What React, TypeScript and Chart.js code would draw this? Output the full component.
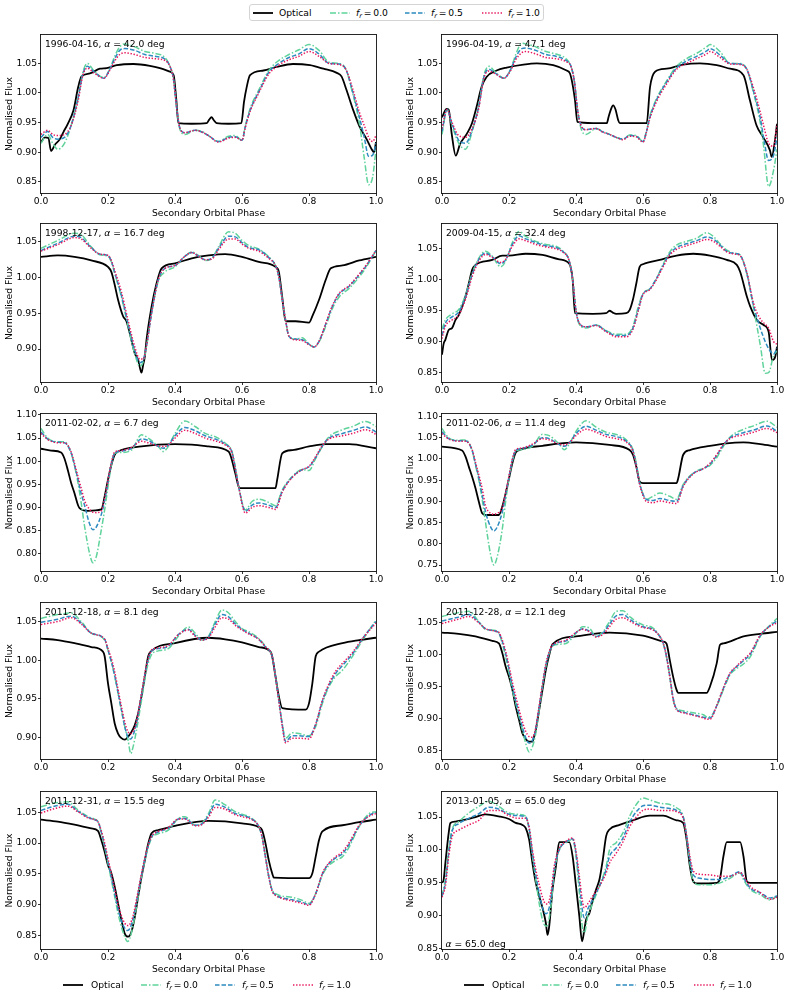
import React, { useEffect, useRef } from "react";
import { Chart, registerables } from "chart.js";

Chart.register(...registerables);

const FONT_FAMILY = "'DejaVu Sans', 'Liberation Sans', sans-serif";
const FS = 9.2;

// ---------- panel metadata ----------
const DATES = ["1996-04-16", "1996-04-19", "1998-12-17", "2009-04-15", "2011-02-02", "2011-02-06", "2011-12-18", "2011-12-28", "2011-12-31", "2013-01-05"];
const ALPHAS = ["42.0", "47.1", "16.7", "32.4", "6.7", "11.4", "8.1", "12.1", "15.5", "65.0"];
const Y_MIN = [0.831, 0.831, 0.854, 0.835, 0.763, 0.736, 0.872, 0.837, 0.828, 0.8495];
const Y_MAX = [1.098, 1.098, 1.075, 1.090, 1.102, 1.106, 1.074, 1.080, 1.083, 1.088];
const Y_TICKS_A = [0.85, 0.9, 0.95, 1.0, 1.05];
const Y_TICKS_B = [0.9, 0.95, 1.0, 1.05];
const Y_TICKS_C = [0.8, 0.85, 0.9, 0.95, 1.0, 1.05, 1.1];
const Y_TICKS_D = [0.75, 0.8, 0.85, 0.9, 0.95, 1.0, 1.05, 1.1];
const X_TICKS = [0, 0.2, 0.4, 0.6, 0.8, 1.0];

// ---------- panel 1: 1996-04-16 ----------
const P1_OPT_PH = [0, 0.012, 0.022, 0.03, 0.042, 0.055, 0.067, 0.08, 0.097, 0.111, 0.121, 0.146, 0.176, 0.196, 0.226, 0.276, 0.325, 0.355, 0.385, 0.396, 0.404, 0.41, 0.45, 0.495, 0.502, 0.509, 0.516, 0.524, 0.56, 0.598, 0.606, 0.614, 0.624, 0.664, 0.703, 0.752, 0.803, 0.843, 0.883, 0.897, 0.912, 0.932, 0.952, 0.972, 0.987, 0.994, 1.0];
const P1_OPT = [0.917, 0.925, 0.924, 0.902, 0.913, 0.921, 0.934, 0.948, 0.971, 1.010, 1.028, 1.033, 1.041, 1.042, 1.047, 1.049, 1.046, 1.042, 1.036, 1.030, 0.988, 0.949, 0.948, 0.949, 0.955, 0.959, 0.954, 0.949, 0.948, 0.949, 0.985, 1.010, 1.030, 1.038, 1.044, 1.049, 1.047, 1.041, 1.034, 1.028, 1.005, 0.971, 0.942, 0.922, 0.905, 0.900, 0.917];
const P1_MOD_PH = [0, 0.02, 0.035, 0.05, 0.07, 0.09, 0.11, 0.125, 0.138, 0.16, 0.188, 0.205, 0.22, 0.235, 0.25, 0.28, 0.31, 0.34, 0.37, 0.385, 0.395, 0.405, 0.415, 0.43, 0.46, 0.48, 0.5, 0.53, 0.56, 0.58, 0.6, 0.61, 0.625, 0.65, 0.68, 0.71, 0.74, 0.77, 0.8, 0.83, 0.86, 0.89, 0.91, 0.93, 0.95, 0.965, 0.978, 0.99, 1.0];
const P1_F00 = [0.915, 0.930, 0.915, 0.905, 0.915, 0.945, 0.990, 1.035, 1.050, 1.036, 1.026, 1.040, 1.062, 1.078, 1.083, 1.078, 1.070, 1.067, 1.060, 1.045, 1.025, 0.975, 0.938, 0.930, 0.937, 0.935, 0.928, 0.918, 0.927, 0.928, 0.920, 0.945, 0.975, 1.005, 1.038, 1.055, 1.065, 1.073, 1.082, 1.072, 1.052, 1.050, 1.040, 1.000, 0.950, 0.890, 0.845, 0.858, 0.905];
const P1_F05 = [0.925, 0.935, 0.925, 0.922, 0.925, 0.945, 0.990, 1.032, 1.045, 1.035, 1.025, 1.040, 1.058, 1.072, 1.075, 1.072, 1.065, 1.062, 1.057, 1.045, 1.025, 0.975, 0.940, 0.933, 0.937, 0.934, 0.928, 0.918, 0.925, 0.926, 0.920, 0.943, 0.972, 1.002, 1.035, 1.050, 1.060, 1.066, 1.075, 1.066, 1.050, 1.049, 1.040, 1.003, 0.960, 0.925, 0.893, 0.895, 0.915];
const P1_F10 = [0.930, 0.937, 0.930, 0.928, 0.930, 0.945, 0.985, 1.030, 1.042, 1.033, 1.025, 1.038, 1.054, 1.065, 1.068, 1.065, 1.060, 1.058, 1.055, 1.045, 1.025, 0.975, 0.940, 0.933, 0.937, 0.934, 0.928, 0.917, 0.924, 0.925, 0.920, 0.942, 0.970, 1.000, 1.032, 1.047, 1.056, 1.062, 1.070, 1.062, 1.050, 1.048, 1.040, 1.008, 0.968, 0.945, 0.925, 0.918, 0.928];

// ---------- panel 2: 1996-04-19 ----------
const P2_OPT_PH = [0, 0.014, 0.02, 0.029, 0.041, 0.054, 0.074, 0.089, 0.103, 0.118, 0.133, 0.163, 0.193, 0.243, 0.283, 0.332, 0.372, 0.382, 0.397, 0.404, 0.45, 0.492, 0.497, 0.504, 0.511, 0.518, 0.526, 0.531, 0.57, 0.611, 0.621, 0.636, 0.671, 0.72, 0.77, 0.82, 0.86, 0.9, 0.919, 0.939, 0.959, 0.979, 0.984, 0.994, 1.0];
const P2_OPT = [0.959, 0.973, 0.972, 0.931, 0.894, 0.914, 0.931, 0.948, 0.976, 1.010, 1.027, 1.038, 1.043, 1.048, 1.050, 1.047, 1.038, 1.033, 0.988, 0.951, 0.949, 0.949, 0.959, 0.972, 0.979, 0.972, 0.954, 0.949, 0.949, 0.949, 1.010, 1.036, 1.041, 1.048, 1.050, 1.047, 1.041, 1.030, 0.988, 0.945, 0.925, 0.903, 0.892, 0.920, 0.948];
const P2_MOD_PH = [0, 0.015, 0.03, 0.05, 0.07, 0.09, 0.11, 0.125, 0.14, 0.16, 0.185, 0.205, 0.22, 0.238, 0.25, 0.28, 0.31, 0.34, 0.37, 0.385, 0.395, 0.405, 0.415, 0.43, 0.46, 0.48, 0.5, 0.52, 0.54, 0.56, 0.58, 0.6, 0.61, 0.62, 0.64, 0.67, 0.7, 0.73, 0.76, 0.79, 0.8, 0.83, 0.86, 0.89, 0.91, 0.93, 0.95, 0.96, 0.975, 0.99, 1.0];
const P2_F00 = [0.930, 0.972, 0.945, 0.915, 0.905, 0.935, 0.980, 1.030, 1.045, 1.035, 1.025, 1.040, 1.065, 1.084, 1.083, 1.078, 1.070, 1.066, 1.058, 1.045, 1.020, 0.970, 0.940, 0.930, 0.940, 0.935, 0.930, 0.925, 0.922, 0.929, 0.928, 0.918, 0.935, 0.960, 0.990, 1.020, 1.045, 1.058, 1.067, 1.078, 1.082, 1.070, 1.050, 1.050, 1.040, 1.000, 0.950, 0.910, 0.842, 0.870, 0.905];
const P2_F05 = [0.935, 0.972, 0.948, 0.920, 0.915, 0.937, 0.978, 1.027, 1.040, 1.033, 1.025, 1.040, 1.060, 1.075, 1.076, 1.072, 1.065, 1.062, 1.055, 1.045, 1.020, 0.970, 0.945, 0.938, 0.940, 0.934, 0.930, 0.925, 0.922, 0.928, 0.927, 0.918, 0.934, 0.958, 0.988, 1.018, 1.042, 1.054, 1.062, 1.071, 1.075, 1.064, 1.050, 1.049, 1.040, 1.003, 0.958, 0.925, 0.886, 0.895, 0.925];
const P2_F10 = [0.940, 0.972, 0.950, 0.928, 0.925, 0.940, 0.975, 1.025, 1.037, 1.032, 1.025, 1.038, 1.056, 1.068, 1.070, 1.066, 1.060, 1.058, 1.053, 1.045, 1.020, 0.970, 0.945, 0.938, 0.940, 0.934, 0.930, 0.925, 0.921, 0.927, 0.926, 0.917, 0.933, 0.956, 0.985, 1.015, 1.040, 1.050, 1.058, 1.066, 1.070, 1.060, 1.049, 1.048, 1.040, 1.008, 0.968, 0.945, 0.915, 0.910, 0.947];

// ---------- panel 3: 1998-12-17 ----------
const P3_OPT_PH = [0, 0.05, 0.1, 0.15, 0.2, 0.21, 0.22, 0.23, 0.245, 0.255, 0.265, 0.28, 0.29, 0.3, 0.305, 0.31, 0.315, 0.33, 0.345, 0.36, 0.4, 0.45, 0.5, 0.55, 0.6, 0.65, 0.7, 0.71, 0.72, 0.73, 0.76, 0.8, 0.81, 0.83, 0.85, 0.865, 0.9, 0.95, 1.0];
const P3_OPT = [1.029, 1.031, 1.029, 1.024, 1.015, 1.008, 0.990, 0.969, 0.946, 0.939, 0.922, 0.894, 0.885, 0.867, 0.878, 0.890, 0.913, 0.959, 0.992, 1.013, 1.020, 1.027, 1.031, 1.033, 1.029, 1.022, 1.015, 1.008, 0.973, 0.939, 0.939, 0.937, 0.946, 0.969, 0.997, 1.013, 1.017, 1.024, 1.029];
const P3_MOD_PH = [0, 0.05, 0.1, 0.12, 0.15, 0.175, 0.2, 0.21, 0.22, 0.24, 0.26, 0.28, 0.295, 0.305, 0.315, 0.33, 0.35, 0.37, 0.4, 0.43, 0.45, 0.47, 0.49, 0.51, 0.53, 0.56, 0.58, 0.6, 0.62, 0.65, 0.68, 0.7, 0.71, 0.72, 0.73, 0.74, 0.76, 0.78, 0.8, 0.815, 0.83, 0.85, 0.87, 0.89, 0.92, 0.95, 0.97, 1.0];
const P3_F00 = [1.041, 1.052, 1.062, 1.060, 1.043, 1.032, 1.030, 1.022, 1.006, 0.973, 0.932, 0.893, 0.876, 0.882, 0.904, 0.950, 0.995, 1.008, 1.015, 1.030, 1.036, 1.031, 1.024, 1.027, 1.043, 1.064, 1.062, 1.052, 1.045, 1.040, 1.029, 1.017, 1.001, 0.969, 0.941, 0.918, 0.914, 0.916, 0.907, 0.903, 0.910, 0.932, 0.957, 0.973, 0.985, 1.001, 1.014, 1.038];
const P3_F05 = [1.038, 1.048, 1.058, 1.056, 1.042, 1.033, 1.031, 1.023, 1.007, 0.975, 0.935, 0.898, 0.881, 0.885, 0.905, 0.950, 0.997, 1.013, 1.017, 1.030, 1.035, 1.030, 1.025, 1.027, 1.041, 1.058, 1.057, 1.049, 1.042, 1.039, 1.028, 1.017, 1.001, 0.970, 0.941, 0.918, 0.914, 0.913, 0.907, 0.903, 0.911, 0.935, 0.960, 0.977, 0.988, 1.004, 1.016, 1.038];
const P3_F10 = [1.037, 1.046, 1.056, 1.054, 1.041, 1.033, 1.031, 1.024, 1.010, 0.980, 0.940, 0.903, 0.886, 0.886, 0.905, 0.950, 0.997, 1.013, 1.017, 1.030, 1.035, 1.030, 1.025, 1.026, 1.039, 1.054, 1.054, 1.047, 1.041, 1.037, 1.027, 1.017, 1.001, 0.970, 0.941, 0.918, 0.913, 0.912, 0.906, 0.903, 0.911, 0.936, 0.961, 0.978, 0.989, 1.005, 1.017, 1.038];

// ---------- panel 4: 2009-04-15 ----------
const P4_OPT_PH = [0, 0.005, 0.01, 0.02, 0.03, 0.04, 0.05, 0.06, 0.07, 0.08, 0.09, 0.1, 0.15, 0.18, 0.2, 0.25, 0.3, 0.35, 0.38, 0.39, 0.397, 0.45, 0.49, 0.5, 0.51, 0.52, 0.55, 0.56, 0.57, 0.58, 0.59, 0.6, 0.65, 0.7, 0.75, 0.8, 0.85, 0.88, 0.89, 0.91, 0.92, 0.94, 0.96, 0.975, 0.985, 0.995, 1.0];
const P4_OPT = [0.879, 0.897, 0.903, 0.919, 0.922, 0.935, 0.943, 0.957, 0.973, 0.994, 1.016, 1.024, 1.032, 1.039, 1.039, 1.042, 1.040, 1.033, 1.026, 1.000, 0.946, 0.945, 0.946, 0.950, 0.947, 0.945, 0.946, 0.951, 0.968, 0.994, 1.021, 1.025, 1.032, 1.039, 1.042, 1.039, 1.032, 1.024, 1.013, 0.973, 0.957, 0.935, 0.927, 0.916, 0.870, 0.876, 0.892];
const P4_MOD_PH = [0, 0.01, 0.03, 0.05, 0.07, 0.09, 0.11, 0.13, 0.15, 0.175, 0.19, 0.21, 0.23, 0.25, 0.28, 0.31, 0.34, 0.36, 0.38, 0.39, 0.4, 0.41, 0.43, 0.46, 0.49, 0.52, 0.55, 0.57, 0.585, 0.6, 0.62, 0.64, 0.66, 0.68, 0.7, 0.73, 0.76, 0.79, 0.81, 0.83, 0.85, 0.88, 0.89, 0.91, 0.93, 0.95, 0.965, 0.975, 0.99, 1.0];
const P4_F00 = [0.920, 0.935, 0.945, 0.952, 0.975, 1.010, 1.035, 1.046, 1.038, 1.021, 1.030, 1.060, 1.078, 1.070, 1.062, 1.057, 1.054, 1.047, 1.030, 1.000, 0.950, 0.928, 0.922, 0.927, 0.918, 0.912, 0.912, 0.925, 0.955, 0.978, 0.985, 1.002, 1.025, 1.045, 1.056, 1.062, 1.067, 1.076, 1.070, 1.058, 1.048, 1.042, 1.040, 1.010, 0.955, 0.895, 0.849, 0.850, 0.878, 0.885];
const P4_F05 = [0.910, 0.930, 0.940, 0.948, 0.972, 1.008, 1.033, 1.043, 1.037, 1.026, 1.032, 1.057, 1.071, 1.066, 1.060, 1.055, 1.052, 1.046, 1.030, 1.000, 0.950, 0.930, 0.924, 0.927, 0.917, 0.910, 0.910, 0.922, 0.950, 0.977, 0.985, 1.002, 1.023, 1.042, 1.052, 1.058, 1.063, 1.069, 1.066, 1.056, 1.046, 1.042, 1.040, 1.010, 0.958, 0.922, 0.900, 0.889, 0.880, 0.890];
const P4_F10 = [0.905, 0.925, 0.935, 0.943, 0.968, 1.005, 1.030, 1.041, 1.036, 1.028, 1.033, 1.054, 1.066, 1.063, 1.057, 1.053, 1.050, 1.045, 1.030, 1.000, 0.950, 0.930, 0.924, 0.926, 0.916, 0.908, 0.908, 0.920, 0.948, 0.976, 0.984, 1.000, 1.021, 1.040, 1.049, 1.055, 1.060, 1.065, 1.062, 1.054, 1.045, 1.041, 1.039, 1.012, 0.962, 0.937, 0.928, 0.922, 0.900, 0.896];

// ---------- panel 5: 2011-02-02 ----------
const P5_OPT_PH = [0, 0.03, 0.06, 0.07, 0.08, 0.09, 0.1, 0.11, 0.115, 0.14, 0.18, 0.19, 0.2, 0.21, 0.22, 0.23, 0.3, 0.4, 0.45, 0.5, 0.56, 0.565, 0.58, 0.59, 0.595, 0.7, 0.705, 0.72, 0.75, 0.8, 0.85, 0.92, 1.0];
const P5_OPT = [1.027, 1.023, 1.019, 1.006, 0.981, 0.953, 0.931, 0.906, 0.899, 0.893, 0.896, 0.924, 0.960, 0.992, 1.014, 1.021, 1.032, 1.037, 1.036, 1.032, 1.021, 1.014, 0.974, 0.945, 0.942, 0.942, 0.960, 1.017, 1.024, 1.032, 1.037, 1.037, 1.028];
const P5_MOD_PH = [0, 0.02, 0.05, 0.07, 0.09, 0.1, 0.11, 0.12, 0.13, 0.145, 0.155, 0.165, 0.18, 0.19, 0.2, 0.21, 0.22, 0.24, 0.27, 0.3, 0.32, 0.35, 0.365, 0.38, 0.4, 0.43, 0.46, 0.49, 0.52, 0.55, 0.57, 0.58, 0.59, 0.61, 0.63, 0.65, 0.68, 0.7, 0.72, 0.75, 0.78, 0.8, 0.82, 0.84, 0.86, 0.9, 0.93, 0.97, 1.0];
const P5_F00 = [1.071, 1.050, 1.042, 1.042, 1.017, 0.990, 0.955, 0.910, 0.860, 0.801, 0.781, 0.794, 0.852, 0.895, 0.945, 0.992, 1.017, 1.019, 1.024, 1.057, 1.050, 1.032, 1.021, 1.032, 1.060, 1.087, 1.075, 1.060, 1.053, 1.039, 1.021, 0.988, 0.945, 0.895, 0.913, 0.918, 0.911, 0.904, 0.938, 0.967, 0.982, 0.980, 1.006, 1.032, 1.053, 1.068, 1.075, 1.086, 1.075];
const P5_F05 = [1.063, 1.048, 1.041, 1.040, 1.018, 0.992, 0.962, 0.930, 0.905, 0.865, 0.852, 0.858, 0.885, 0.915, 0.955, 0.995, 1.017, 1.022, 1.028, 1.048, 1.045, 1.032, 1.028, 1.035, 1.055, 1.073, 1.066, 1.055, 1.048, 1.037, 1.020, 0.985, 0.945, 0.892, 0.905, 0.910, 0.905, 0.900, 0.935, 0.966, 0.982, 0.988, 1.008, 1.033, 1.050, 1.060, 1.066, 1.074, 1.063];
const P5_F10 = [1.060, 1.047, 1.040, 1.040, 1.020, 0.995, 0.968, 0.942, 0.915, 0.896, 0.890, 0.889, 0.893, 0.920, 0.958, 0.997, 1.020, 1.023, 1.030, 1.043, 1.040, 1.033, 1.032, 1.035, 1.050, 1.067, 1.060, 1.050, 1.044, 1.035, 1.018, 0.983, 0.945, 0.888, 0.900, 0.904, 0.900, 0.896, 0.933, 0.965, 0.982, 0.989, 1.010, 1.034, 1.048, 1.055, 1.060, 1.068, 1.058];

// ---------- panel 6: 2011-02-06 ----------
const P6_OPT_PH = [0, 0.06, 0.07, 0.08, 0.09, 0.1, 0.11, 0.12, 0.13, 0.17, 0.18, 0.19, 0.2, 0.21, 0.22, 0.23, 0.3, 0.4, 0.5, 0.56, 0.57, 0.58, 0.59, 0.6, 0.7, 0.705, 0.72, 0.74, 0.8, 0.85, 0.9, 0.95, 1.0];
const P6_OPT = [1.029, 1.020, 1.006, 0.982, 0.958, 0.931, 0.899, 0.872, 0.868, 0.868, 0.888, 0.919, 0.954, 0.990, 1.015, 1.021, 1.031, 1.039, 1.033, 1.021, 1.010, 0.982, 0.947, 0.943, 0.943, 0.954, 1.010, 1.021, 1.031, 1.037, 1.039, 1.035, 1.029];
const P6_MOD_PH = [0, 0.02, 0.05, 0.07, 0.09, 0.1, 0.11, 0.12, 0.13, 0.145, 0.155, 0.165, 0.18, 0.19, 0.2, 0.21, 0.22, 0.24, 0.27, 0.3, 0.32, 0.35, 0.365, 0.38, 0.4, 0.43, 0.46, 0.49, 0.52, 0.55, 0.57, 0.58, 0.59, 0.61, 0.63, 0.65, 0.68, 0.7, 0.72, 0.75, 0.78, 0.8, 0.82, 0.84, 0.86, 0.9, 0.93, 0.97, 1.0];
const P6_F00 = [1.072, 1.050, 1.044, 1.045, 1.020, 0.985, 0.950, 0.905, 0.850, 0.775, 0.750, 0.770, 0.835, 0.900, 0.955, 0.995, 1.018, 1.022, 1.030, 1.058, 1.055, 1.035, 1.022, 1.035, 1.065, 1.090, 1.075, 1.063, 1.058, 1.045, 1.022, 0.990, 0.945, 0.905, 0.912, 0.920, 0.912, 0.905, 0.940, 0.967, 0.978, 0.985, 1.003, 1.030, 1.052, 1.070, 1.078, 1.089, 1.075];
const P6_F05 = [1.064, 1.048, 1.043, 1.043, 1.020, 0.988, 0.955, 0.915, 0.875, 0.840, 0.830, 0.840, 0.875, 0.915, 0.958, 0.998, 1.020, 1.025, 1.033, 1.050, 1.048, 1.034, 1.030, 1.038, 1.060, 1.077, 1.068, 1.058, 1.053, 1.042, 1.020, 0.985, 0.942, 0.905, 0.902, 0.907, 0.902, 0.900, 0.937, 0.966, 0.977, 0.988, 1.008, 1.033, 1.050, 1.062, 1.068, 1.078, 1.065];
const P6_F10 = [1.060, 1.047, 1.042, 1.042, 1.022, 0.992, 0.962, 0.930, 0.890, 0.872, 0.870, 0.872, 0.885, 0.920, 0.960, 1.000, 1.022, 1.026, 1.035, 1.048, 1.045, 1.035, 1.033, 1.038, 1.055, 1.070, 1.063, 1.053, 1.048, 1.040, 1.018, 0.983, 0.940, 0.900, 0.897, 0.901, 0.897, 0.895, 0.935, 0.965, 0.977, 0.990, 1.010, 1.034, 1.048, 1.057, 1.063, 1.072, 1.062];

// ---------- panel 7: 2011-12-18 ----------
const P7_OPT_PH = [0, 0.05, 0.1, 0.15, 0.185, 0.19, 0.2, 0.21, 0.22, 0.23, 0.24, 0.25, 0.26, 0.27, 0.28, 0.29, 0.3, 0.31, 0.32, 0.33, 0.4, 0.5, 0.55, 0.6, 0.65, 0.685, 0.69, 0.7, 0.71, 0.72, 0.79, 0.8, 0.81, 0.82, 0.83, 0.9, 0.95, 1.0];
const P7_OPT = [1.028, 1.026, 1.022, 1.017, 1.011, 1.005, 0.970, 0.944, 0.918, 0.905, 0.899, 0.897, 0.901, 0.907, 0.916, 0.931, 0.953, 0.979, 1.005, 1.012, 1.022, 1.029, 1.027, 1.023, 1.017, 1.011, 1.005, 0.979, 0.953, 0.938, 0.936, 0.944, 0.970, 1.005, 1.011, 1.022, 1.026, 1.029];
const P7_MOD_PH = [0, 0.05, 0.09, 0.12, 0.15, 0.19, 0.2, 0.21, 0.22, 0.23, 0.24, 0.25, 0.26, 0.268, 0.275, 0.285, 0.3, 0.315, 0.33, 0.35, 0.38, 0.41, 0.44, 0.46, 0.48, 0.5, 0.52, 0.54, 0.56, 0.58, 0.6, 0.62, 0.65, 0.67, 0.69, 0.7, 0.71, 0.72, 0.73, 0.75, 0.77, 0.8, 0.82, 0.84, 0.86, 0.88, 0.9, 0.93, 0.96, 1.0];
const P7_F00 = [1.054, 1.059, 1.061, 1.050, 1.035, 1.026, 1.013, 0.998, 0.979, 0.957, 0.935, 0.914, 0.896, 0.879, 0.888, 0.909, 0.948, 0.987, 1.007, 1.012, 1.015, 1.031, 1.043, 1.035, 1.026, 1.031, 1.050, 1.065, 1.061, 1.050, 1.041, 1.037, 1.028, 1.018, 1.005, 0.979, 0.948, 0.918, 0.899, 0.906, 0.905, 0.902, 0.914, 0.944, 0.966, 0.979, 0.987, 1.005, 1.026, 1.052];
const P7_F05 = [1.049, 1.053, 1.057, 1.048, 1.035, 1.027, 1.013, 0.998, 0.980, 0.958, 0.936, 0.914, 0.900, 0.898, 0.903, 0.918, 0.955, 0.992, 1.012, 1.015, 1.018, 1.033, 1.040, 1.032, 1.026, 1.030, 1.047, 1.059, 1.056, 1.047, 1.040, 1.035, 1.027, 1.017, 1.005, 0.979, 0.948, 0.917, 0.895, 0.902, 0.902, 0.901, 0.917, 0.947, 0.968, 0.983, 0.993, 1.008, 1.028, 1.050];
const P7_F10 = [1.046, 1.050, 1.055, 1.047, 1.035, 1.027, 1.015, 1.002, 0.985, 0.962, 0.940, 0.920, 0.907, 0.905, 0.908, 0.920, 0.957, 0.993, 1.013, 1.016, 1.019, 1.033, 1.039, 1.031, 1.026, 1.029, 1.043, 1.055, 1.053, 1.045, 1.039, 1.034, 1.027, 1.017, 1.005, 0.978, 0.947, 0.915, 0.893, 0.899, 0.899, 0.898, 0.917, 0.948, 0.970, 0.986, 0.996, 1.010, 1.028, 1.048];

// ---------- panel 8: 2011-12-28 ----------
const P8_OPT_PH = [0, 0.05, 0.1, 0.15, 0.17, 0.18, 0.19, 0.2, 0.21, 0.22, 0.23, 0.24, 0.25, 0.26, 0.27, 0.275, 0.28, 0.29, 0.3, 0.31, 0.32, 0.33, 0.4, 0.5, 0.6, 0.66, 0.67, 0.68, 0.69, 0.7, 0.705, 0.79, 0.8, 0.82, 0.83, 0.84, 0.9, 0.95, 1.0];
const P8_OPT = [1.034, 1.032, 1.028, 1.021, 1.017, 1.002, 0.981, 0.965, 0.945, 0.919, 0.898, 0.877, 0.868, 0.864, 0.864, 0.872, 0.882, 0.913, 0.945, 0.976, 0.999, 1.016, 1.028, 1.034, 1.029, 1.020, 1.017, 0.991, 0.965, 0.945, 0.940, 0.940, 0.950, 0.986, 1.015, 1.017, 1.028, 1.032, 1.035];
const P8_MOD_PH = [0, 0.05, 0.08, 0.11, 0.13, 0.16, 0.17, 0.18, 0.19, 0.2, 0.21, 0.22, 0.23, 0.24, 0.25, 0.26, 0.27, 0.28, 0.29, 0.3, 0.31, 0.325, 0.34, 0.37, 0.4, 0.42, 0.44, 0.46, 0.48, 0.5, 0.52, 0.54, 0.56, 0.58, 0.6, 0.63, 0.65, 0.66, 0.67, 0.68, 0.69, 0.7, 0.72, 0.75, 0.78, 0.79, 0.8, 0.82, 0.84, 0.86, 0.88, 0.9, 0.92, 0.95, 0.98, 1.0];
const P8_F00 = [1.059, 1.065, 1.067, 1.051, 1.039, 1.037, 1.033, 1.017, 0.996, 0.971, 0.945, 0.924, 0.903, 0.882, 0.861, 0.848, 0.856, 0.877, 0.913, 0.950, 0.981, 1.009, 1.015, 1.017, 1.033, 1.043, 1.041, 1.028, 1.035, 1.051, 1.067, 1.068, 1.059, 1.051, 1.046, 1.041, 1.028, 1.017, 0.996, 0.965, 0.929, 0.916, 0.912, 0.909, 0.906, 0.903, 0.903, 0.919, 0.945, 0.968, 0.978, 0.985, 0.996, 1.028, 1.046, 1.056];
const P8_F05 = [1.052, 1.058, 1.062, 1.050, 1.040, 1.036, 1.033, 1.020, 1.001, 0.977, 0.950, 0.928, 0.907, 0.887, 0.870, 0.862, 0.866, 0.884, 0.918, 0.952, 0.983, 1.010, 1.017, 1.021, 1.034, 1.040, 1.036, 1.028, 1.033, 1.047, 1.060, 1.062, 1.055, 1.048, 1.043, 1.039, 1.028, 1.018, 0.997, 0.966, 0.932, 0.915, 0.910, 0.906, 0.902, 0.901, 0.901, 0.920, 0.947, 0.970, 0.981, 0.990, 1.000, 1.029, 1.045, 1.052];
const P8_F10 = [1.048, 1.055, 1.059, 1.049, 1.040, 1.036, 1.034, 1.022, 1.005, 0.982, 0.957, 0.935, 0.914, 0.895, 0.880, 0.872, 0.871, 0.886, 0.920, 0.954, 0.985, 1.011, 1.018, 1.022, 1.034, 1.039, 1.035, 1.027, 1.031, 1.043, 1.055, 1.057, 1.052, 1.046, 1.042, 1.038, 1.028, 1.018, 0.997, 0.965, 0.930, 0.914, 0.909, 0.905, 0.901, 0.899, 0.899, 0.920, 0.948, 0.971, 0.982, 0.992, 1.002, 1.030, 1.044, 1.049];

// ---------- panel 9: 2011-12-31 ----------
const P9_OPT_PH = [0, 0.05, 0.1, 0.15, 0.17, 0.18, 0.19, 0.2, 0.21, 0.22, 0.23, 0.24, 0.25, 0.26, 0.27, 0.28, 0.29, 0.3, 0.31, 0.32, 0.33, 0.35, 0.4, 0.5, 0.6, 0.65, 0.66, 0.67, 0.68, 0.69, 0.695, 0.8, 0.81, 0.82, 0.83, 0.84, 0.9, 0.95, 1.0];
const P9_OPT = [1.038, 1.035, 1.030, 1.024, 1.020, 1.005, 0.986, 0.964, 0.951, 0.929, 0.902, 0.875, 0.853, 0.848, 0.856, 0.880, 0.913, 0.945, 0.972, 0.999, 1.016, 1.021, 1.028, 1.036, 1.032, 1.026, 1.021, 1.000, 0.972, 0.951, 0.944, 0.943, 0.951, 0.978, 1.005, 1.019, 1.029, 1.034, 1.038];
const P9_MOD_PH = [0, 0.04, 0.08, 0.11, 0.14, 0.16, 0.17, 0.18, 0.19, 0.2, 0.21, 0.22, 0.23, 0.24, 0.25, 0.258, 0.265, 0.275, 0.285, 0.3, 0.315, 0.33, 0.35, 0.38, 0.41, 0.43, 0.46, 0.48, 0.5, 0.52, 0.55, 0.58, 0.6, 0.63, 0.65, 0.66, 0.67, 0.68, 0.69, 0.7, 0.72, 0.75, 0.78, 0.8, 0.82, 0.84, 0.86, 0.88, 0.9, 0.92, 0.95, 0.98, 1.0];
const P9_F00 = [1.059, 1.065, 1.067, 1.054, 1.043, 1.039, 1.035, 1.016, 0.994, 0.967, 0.940, 0.913, 0.886, 0.864, 0.848, 0.840, 0.845, 0.867, 0.897, 0.945, 0.983, 1.008, 1.015, 1.021, 1.040, 1.043, 1.029, 1.032, 1.048, 1.070, 1.062, 1.051, 1.047, 1.040, 1.027, 1.010, 0.978, 0.945, 0.924, 0.918, 0.914, 0.912, 0.907, 0.902, 0.918, 0.948, 0.964, 0.972, 0.978, 0.994, 1.027, 1.048, 1.051];
const P9_F05 = [1.053, 1.060, 1.063, 1.052, 1.042, 1.038, 1.035, 1.018, 0.996, 0.970, 0.944, 0.918, 0.893, 0.873, 0.862, 0.858, 0.861, 0.878, 0.905, 0.948, 0.985, 1.010, 1.018, 1.024, 1.039, 1.040, 1.029, 1.031, 1.045, 1.063, 1.058, 1.048, 1.045, 1.039, 1.027, 1.010, 0.978, 0.946, 0.923, 0.916, 0.911, 0.908, 0.904, 0.900, 0.918, 0.950, 0.967, 0.976, 0.983, 0.998, 1.028, 1.045, 1.050];
const P9_F10 = [1.049, 1.056, 1.060, 1.051, 1.041, 1.038, 1.035, 1.020, 1.000, 0.975, 0.950, 0.925, 0.900, 0.882, 0.870, 0.866, 0.868, 0.882, 0.908, 0.950, 0.987, 1.011, 1.019, 1.025, 1.039, 1.039, 1.028, 1.030, 1.042, 1.058, 1.055, 1.046, 1.043, 1.038, 1.027, 1.010, 0.977, 0.945, 0.922, 0.915, 0.910, 0.906, 0.902, 0.899, 0.918, 0.951, 0.968, 0.978, 0.986, 1.001, 1.029, 1.044, 1.048];

// ---------- panel 10: 2013-01-05 ----------
const P10_OPT_PH = [0, 0.005, 0.01, 0.02, 0.025, 0.04, 0.06, 0.1, 0.13, 0.17, 0.2, 0.22, 0.24, 0.25, 0.26, 0.27, 0.28, 0.29, 0.3, 0.31, 0.315, 0.32, 0.33, 0.34, 0.35, 0.38, 0.39, 0.4, 0.41, 0.418, 0.425, 0.43, 0.44, 0.45, 0.46, 0.47, 0.48, 0.49, 0.5, 0.53, 0.57, 0.62, 0.66, 0.7, 0.72, 0.73, 0.74, 0.75, 0.76, 0.82, 0.83, 0.84, 0.85, 0.89, 0.9, 0.91, 0.92, 1.0];
const P10_OPT = [0.950, 0.955, 0.980, 1.026, 1.041, 1.043, 1.045, 1.050, 1.054, 1.051, 1.047, 1.041, 1.038, 1.033, 1.016, 0.980, 0.950, 0.930, 0.912, 0.889, 0.871, 0.884, 0.940, 0.975, 1.012, 1.012, 0.990, 0.945, 0.899, 0.861, 0.879, 0.894, 0.904, 0.924, 0.940, 0.955, 0.985, 1.021, 1.031, 1.038, 1.045, 1.052, 1.052, 1.045, 1.041, 1.016, 0.975, 0.952, 0.949, 0.950, 0.957, 0.990, 1.012, 1.012, 0.990, 0.952, 0.950, 0.950];
const P10_MOD_PH = [0, 0.01, 0.02, 0.03, 0.05, 0.08, 0.11, 0.14, 0.17, 0.2, 0.23, 0.25, 0.26, 0.27, 0.28, 0.29, 0.3, 0.31, 0.315, 0.325, 0.335, 0.35, 0.37, 0.39, 0.4, 0.41, 0.42, 0.425, 0.435, 0.45, 0.47, 0.49, 0.5, 0.52, 0.54, 0.56, 0.58, 0.6, 0.62, 0.65, 0.68, 0.7, 0.72, 0.73, 0.74, 0.75, 0.77, 0.8, 0.83, 0.86, 0.89, 0.9, 0.92, 0.95, 0.98, 1.0];
const P10_F00 = [0.930, 0.955, 1.000, 1.031, 1.043, 1.056, 1.066, 1.074, 1.066, 1.056, 1.054, 1.051, 1.031, 0.990, 0.955, 0.919, 0.894, 0.884, 0.886, 0.914, 0.965, 1.000, 1.011, 1.016, 0.990, 0.935, 0.879, 0.874, 0.899, 0.919, 0.945, 0.975, 1.000, 1.011, 1.026, 1.051, 1.069, 1.079, 1.076, 1.071, 1.069, 1.064, 1.051, 1.021, 0.980, 0.952, 0.947, 0.947, 0.950, 0.957, 0.965, 0.955, 0.940, 0.932, 0.924, 0.930];
const P10_F05 = [0.930, 0.950, 0.995, 1.028, 1.040, 1.048, 1.055, 1.065, 1.062, 1.054, 1.052, 1.050, 1.033, 0.995, 0.962, 0.935, 0.912, 0.903, 0.905, 0.925, 0.970, 1.000, 1.012, 1.017, 0.995, 0.950, 0.905, 0.897, 0.910, 0.925, 0.945, 0.970, 0.990, 1.003, 1.018, 1.042, 1.058, 1.067, 1.068, 1.065, 1.063, 1.060, 1.050, 1.022, 0.985, 0.962, 0.957, 0.955, 0.955, 0.960, 0.967, 0.958, 0.942, 0.935, 0.927, 0.930];
const P10_F10 = [0.928, 0.945, 0.990, 1.020, 1.030, 1.038, 1.045, 1.060, 1.060, 1.052, 1.048, 1.048, 1.035, 1.000, 0.970, 0.948, 0.928, 0.918, 0.918, 0.935, 0.975, 1.002, 1.013, 1.018, 0.998, 0.960, 0.920, 0.912, 0.918, 0.930, 0.945, 0.965, 0.980, 0.995, 1.012, 1.035, 1.050, 1.060, 1.062, 1.060, 1.060, 1.058, 1.048, 1.022, 0.990, 0.968, 0.963, 0.962, 0.960, 0.960, 0.966, 0.960, 0.945, 0.935, 0.925, 0.928];

// ---------- styles ----------
const C_OPT = "#000000";
const C_F00 = "#5fd39b";
const C_F05 = "#2d8bc0";
const C_F10 = "#e8175d";
const DASH_F00 = [6, 2, 1.5, 2];
const DASH_F05 = [4.5, 2];
const DASH_F10 = [1.4, 1.7];
const W_OPT = 1.8;
const W_MOD = 1.5;

const PLOT_LEFT = [41, 442];
const PLOT_W = 335;
const PLOT_TOP = [35, 224, 414, 603, 792];
const PLOT_BOTTOM = [193, 382, 571, 759, 949];
const AXIS_W = 41;
const PAD_TOP = 10;
const PAD_RIGHT = 12;
const XAXIS_H = 28;

const PANELS = [
  { optPh: P1_OPT_PH, opt: P1_OPT, modPh: P1_MOD_PH, f00: P1_F00, f05: P1_F05, f10: P1_F10, yTicks: Y_TICKS_A },
  { optPh: P2_OPT_PH, opt: P2_OPT, modPh: P2_MOD_PH, f00: P2_F00, f05: P2_F05, f10: P2_F10, yTicks: Y_TICKS_A },
  { optPh: P3_OPT_PH, opt: P3_OPT, modPh: P3_MOD_PH, f00: P3_F00, f05: P3_F05, f10: P3_F10, yTicks: Y_TICKS_B },
  { optPh: P4_OPT_PH, opt: P4_OPT, modPh: P4_MOD_PH, f00: P4_F00, f05: P4_F05, f10: P4_F10, yTicks: Y_TICKS_A },
  { optPh: P5_OPT_PH, opt: P5_OPT, modPh: P5_MOD_PH, f00: P5_F00, f05: P5_F05, f10: P5_F10, yTicks: Y_TICKS_C },
  { optPh: P6_OPT_PH, opt: P6_OPT, modPh: P6_MOD_PH, f00: P6_F00, f05: P6_F05, f10: P6_F10, yTicks: Y_TICKS_D },
  { optPh: P7_OPT_PH, opt: P7_OPT, modPh: P7_MOD_PH, f00: P7_F00, f05: P7_F05, f10: P7_F10, yTicks: Y_TICKS_B },
  { optPh: P8_OPT_PH, opt: P8_OPT, modPh: P8_MOD_PH, f00: P8_F00, f05: P8_F05, f10: P8_F10, yTicks: Y_TICKS_A },
  { optPh: P9_OPT_PH, opt: P9_OPT, modPh: P9_MOD_PH, f00: P9_F00, f05: P9_F05, f10: P9_F10, yTicks: Y_TICKS_A },
  { optPh: P10_OPT_PH, opt: P10_OPT, modPh: P10_MOD_PH, f00: P10_F00, f05: P10_F05, f10: P10_F10, yTicks: Y_TICKS_A },
].map((p, i) => ({ ...p, date: DATES[i], alpha: ALPHAS[i], yMin: Y_MIN[i], yMax: Y_MAX[i], bottomNote: i === 9 }));

function zip(xs: number[], ys: number[]) {
  const n = Math.min(xs.length, ys.length);
  const out: { x: number; y: number }[] = [];
  for (let i = 0; i < n; i++) out.push({ x: xs[i], y: ys[i] });
  return out;
}

function drawParts(ctx: CanvasRenderingContext2D, x: number, y: number, parts: [string, boolean][]) {
  let cx = x;
  for (const [t, it] of parts) {
    ctx.font = (it ? "italic " : "") + FS + "px " + FONT_FAMILY;
    ctx.fillText(t, cx, y);
    cx += ctx.measureText(t).width;
  }
}

function makeConfig(p: any) {
  const font = { family: FONT_FAMILY, size: FS };
  const common = { pointRadius: 0, pointHoverRadius: 0, fill: false, cubicInterpolationMode: "monotone", borderCapStyle: "butt", borderJoinStyle: "round" };
  const annot = {
    id: "annot",
    afterDraw(chart: any) {
      const { ctx, chartArea } = chart;
      const { left, top, right, bottom } = chartArea;
      ctx.save();
      ctx.strokeStyle = "#111";
      ctx.lineWidth = 0.9;
      ctx.strokeRect(Math.round(left) - 0.5, Math.round(top) - 0.5, Math.round(right - left) + 1, Math.round(bottom - top) + 1);
      ctx.fillStyle = "#000";
      ctx.textBaseline = "alphabetic";
      ctx.textAlign = "left";
      drawParts(ctx, left + 4, top + 11.7, [[p.date + ", ", false], ["α", true], [" = " + p.alpha + " deg", false]]);
      if (p.bottomNote) {
        drawParts(ctx, left + 3.5, bottom - 2.5, [["α", true], [" = " + p.alpha + " deg", false]]);
      }
      ctx.restore();
    },
  };
  return {
    type: "line",
    data: {
      datasets: [
        { label: "Optical", data: zip(p.optPh, p.opt), borderColor: C_OPT, borderWidth: W_OPT, order: 3, ...common },
        { label: "fr=0.0", data: zip(p.modPh, p.f00), borderColor: C_F00, borderWidth: W_MOD, borderDash: DASH_F00, order: 2, ...common },
        { label: "fr=0.5", data: zip(p.modPh, p.f05), borderColor: C_F05, borderWidth: W_MOD, borderDash: DASH_F05, order: 1, ...common },
        { label: "fr=1.0", data: zip(p.modPh, p.f10), borderColor: C_F10, borderWidth: W_MOD, borderDash: DASH_F10, order: 0, ...common },
      ],
    },
    options: {
      animation: false,
      responsive: false,
      maintainAspectRatio: false,
      events: [],
      layout: { padding: { left: 0, right: PAD_RIGHT, top: PAD_TOP, bottom: 0 } },
      plugins: { legend: { display: false }, tooltip: { enabled: false }, title: { display: false } },
      scales: {
        x: {
          type: "linear",
          min: 0,
          max: 1,
          afterFit: (s: any) => { s.height = XAXIS_H; },
          afterBuildTicks: (s: any) => { s.ticks = X_TICKS.map((v) => ({ value: v })); },
          ticks: { callback: (v: any) => Number(v).toFixed(1), font, color: "#000", padding: 0, maxRotation: 0, autoSkip: false },
          grid: { drawOnChartArea: false, drawTicks: true, tickLength: 3, color: "#000", lineWidth: 0.8 },
          border: { display: false },
          title: { display: true, text: "Secondary Orbital Phase", font, color: "#000", padding: { top: 0, bottom: 2 } },
        },
        y: {
          type: "linear",
          min: p.yMin,
          max: p.yMax,
          afterFit: (s: any) => { s.width = AXIS_W; },
          afterBuildTicks: (s: any) => { s.ticks = p.yTicks.map((v: number) => ({ value: v })); },
          ticks: { callback: (v: any) => Number(v).toFixed(2), font, color: "#000", padding: 1, autoSkip: false },
          grid: { drawOnChartArea: false, drawTicks: true, tickLength: 3, color: "#000", lineWidth: 0.8 },
          border: { display: false },
          title: { display: true, text: "Normalised Flux", font, color: "#000", padding: { top: 4, bottom: 0 } },
        },
      },
    },
    plugins: [annot],
  };
}

function Panel({ p, index }: { p: any; index: number }) {
  const ref = useRef<HTMLCanvasElement | null>(null);
  const col = index % 2;
  const row = Math.floor(index / 2);
  const plotH = PLOT_BOTTOM[row] - PLOT_TOP[row];
  const w = AXIS_W + PLOT_W + PAD_RIGHT;
  const h = PAD_TOP + plotH + XAXIS_H;
  const left = PLOT_LEFT[col] - AXIS_W;
  const top = PLOT_TOP[row] - PAD_TOP;
  useEffect(() => {
    if (!ref.current) return;
    const chart = new Chart(ref.current, makeConfig(p) as any);
    return () => chart.destroy();
  }, []);
  return <canvas ref={ref} width={w} height={h} style={{ position: "absolute", left, top, width: w, height: h }} />;
}

const LEGEND_KEYS = ["opt", "f00", "f05", "f10"];
const LEGEND_TEXT = ["Optical", "0.0", "0.5", "1.0"];

function Sample({ k, x, y }: { k: string; x: number; y: number }) {
  const stroke = k === "opt" ? C_OPT : k === "f00" ? C_F00 : k === "f05" ? C_F05 : C_F10;
  const dash = k === "opt" ? undefined : k === "f00" ? DASH_F00.join(" ") : k === "f05" ? DASH_F05.join(" ") : DASH_F10.join(" ");
  return (
    <svg width={20} height={8} style={{ position: "absolute", left: x, top: y - 4, overflow: "visible" }}>
      <line x1={0} y1={4} x2={20} y2={4} stroke={stroke} strokeWidth={k === "opt" ? W_OPT : W_MOD} strokeDasharray={dash} />
    </svg>
  );
}

function Label({ i, x, y }: { i: number; x: number; y: number }) {
  const style: React.CSSProperties = {
    position: "absolute", left: x, top: y - 7, fontFamily: FONT_FAMILY, fontSize: FS, lineHeight: "14px", whiteSpace: "nowrap", color: "#000",
  };
  if (i === 0) return <span style={style}>{LEGEND_TEXT[0]}</span>;
  return (
    <span style={style}>
      <i>f</i>
      <i style={{ fontSize: 6.5, position: "relative", top: 2 }}>r</i>
      {"\u2009=\u2009" + LEGEND_TEXT[i]}
    </span>
  );
}

function Legend({ lines, texts, y }: { lines: number[]; texts: number[]; y: number }) {
  return (
    <>
      {LEGEND_KEYS.map((k, i) => (
        <React.Fragment key={k}>
          <Sample k={k} x={lines[i]} y={y} />
          <Label i={i} x={texts[i]} y={y} />
        </React.Fragment>
      ))}
    </>
  );
}

export default function App() {
  return (
    <div style={{ position: "absolute", left: 0, top: 0, width: 789, height: 999, background: "#fff", overflow: "hidden" }}>
      <div style={{ position: "absolute", left: 249, top: 4, width: 295, height: 17, border: "1px solid #d4d4d4", borderRadius: 3, boxSizing: "border-box", background: "#fff" }} />
      <Legend lines={[253, 330, 405, 482]} texts={[279, 356, 431, 508]} y={12.5} />
      {PANELS.map((p, i) => (
        <Panel key={i} p={p} index={i} />
      ))}
      <Legend lines={[63, 141, 215, 293]} texts={[91, 166, 242, 319]} y={985} />
      <Legend lines={[464, 542, 616, 694]} texts={[492, 567, 643, 720]} y={985} />
    </div>
  );
}
